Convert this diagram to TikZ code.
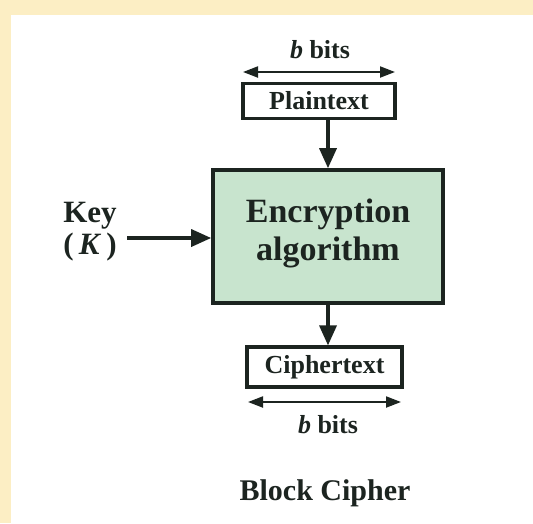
\documentclass[tikz,border=0pt]{standalone}
\usepackage{fontspec}
\setmainfont{Liberation Serif}
\usetikzlibrary{arrows.meta}
\definecolor{cream}{RGB}{252,238,196}
\definecolor{mint}{RGB}{200,228,206}
\definecolor{ink}{RGB}{28,36,32}
\begin{document}
\begin{tikzpicture}[x=1pt,y=-1pt,
  lbl/.style={font=\fontsize{26}{30}\selectfont\bfseries, text=ink, inner sep=0pt},
  box/.style={draw=ink, line width=3.2pt, fill=white, inner sep=0pt},
  flow/.style={draw=ink, line width=3.4pt, -{Triangle[width=17pt,length=20pt]}},
  span/.style={draw=ink, line width=2pt, {Triangle[width=11pt,length=15pt]}-{Triangle[width=11pt,length=15pt]}}]
\useasboundingbox (0,0) rectangle (533,523);
\fill[white] (0,0) rectangle (533,523);
\fill[cream] (0,0) rectangle (533,15);
\fill[cream] (0,0) rectangle (11,523);
% main box
\node[draw=ink, line width=3.6pt, fill=mint, minimum width=230pt, minimum height=133pt, inner sep=0pt] (main) at (328,236.5) {};
\node[lbl, font=\fontsize{34}{38}\selectfont\bfseries, align=center] (enc) at (328,233) {Encryption\\[0pt]algorithm};
% plaintext
\node[box, minimum width=152pt, minimum height=35pt] (plain) at (319,101) {};
\node[lbl] (plaintxt) at (319,101) {Plaintext};
% ciphertext
\node[box, minimum width=155pt, minimum height=40pt] (ciph) at (324.5,367) {};
\node[lbl] (ciphtxt) at (324.5,367) {Ciphertext};
% b bits labels
\node[lbl] (btop) at (320,50) {\textit{b} bits};
\coordinate (tl) at (243,72);
\coordinate (tr) at (395,72);
\draw[span] (tl) -- (tr);
\coordinate (bl) at (248,402);
\coordinate (br) at (401,402);
\draw[span] (bl) -- (br);
\node[lbl] (bbot) at (328,425) {\textit{b} bits};
% key
\node[lbl, font=\fontsize{31}{34}\selectfont\bfseries, align=center] (key) at (90,232) {Key\\[-2pt](\,\textit{K}\,)};
\coordinate (keyend) at (127,238);
\draw[flow] (keyend) -- (keyend -| main.west);
% flow arrows
\draw[flow] (plain.south -| main.north) -- (main.north);
\draw[flow] (main.south) -- (main.south |- ciph.north);
% caption
\node[lbl, font=\fontsize{30}{34}\selectfont\bfseries] (cap) at (325,493) {Block Cipher};
\end{tikzpicture}
\end{document}
